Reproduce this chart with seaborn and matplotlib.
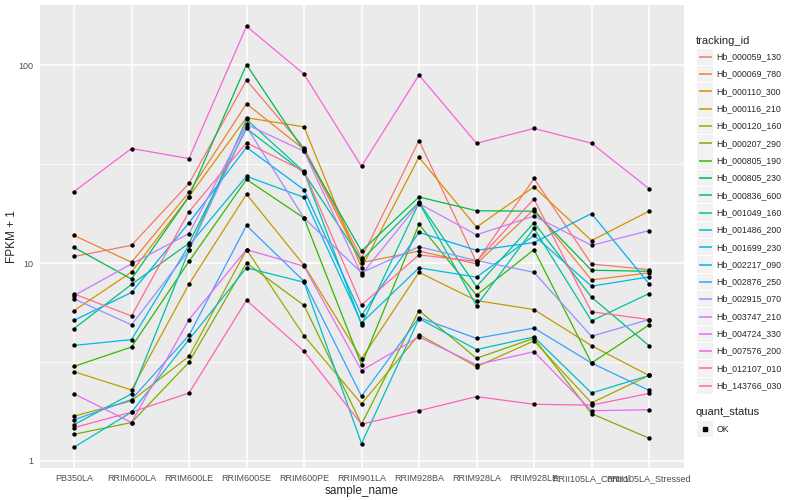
import numpy as np
import pandas as pd
import matplotlib
matplotlib.use("Agg")
import matplotlib.pyplot as plt
import seaborn as sns
from matplotlib.ticker import FixedLocator, NullFormatter
from matplotlib.patches import Rectangle

sample_names = ["PB350LA", "RRIM600LA", "RRIM600LE", "RRIM600SE", "RRIM600PE",
                "RRIM901LA", "RRIM928BA", "RRIM928LA", "RRIM928LE",
                "RRII105LA_Control", "RRII105LA_Stressed"]

tracking_ids = ["Hb_000059_130", "Hb_000069_780", "Hb_000110_300", "Hb_000116_210",
                "Hb_000120_160", "Hb_000207_290", "Hb_000805_190", "Hb_000805_230",
                "Hb_000836_600", "Hb_001049_160", "Hb_001486_200", "Hb_001699_230",
                "Hb_002217_090", "Hb_002876_250", "Hb_002915_070", "Hb_003747_210",
                "Hb_004724_330", "Hb_007576_200", "Hb_012107_010", "Hb_143766_030"]

# FPKM + 1, one list per gene (same order as sample_names)
hb_000059_130 = [10.8, 12.3, 25.3, 84.3, 38.3, 10.6, 41.7, 10.1, 26.8, 9.89, 9.27]
hb_000069_780 = [13.8, 10.1, 22.8, 64.0, 37.6, 10.06, 11.5, 9.91, 18.7, 8.22, 8.92]
hb_000110_300 = [5.75, 9.0, 21.7, 54.4, 48.9, 9.46, 34.3, 15.2, 24.3, 13.0, 18.3]
hb_000116_210 = [2.82, 2.28, 7.83, 22.3, 9.75, 3.28, 8.98, 6.46, 5.82, 3.82, 2.70]
hb_000120_160 = [1.68, 2.01, 3.37, 11.7, 4.29, 1.94, 4.35, 2.99, 4.04, 1.96, 2.70]
hb_000207_290 = [1.36, 1.56, 3.15, 10.0, 6.11, 1.53, 5.75, 3.30, 4.16, 1.73, 1.30]
hb_000805_190 = [3.0, 3.76, 10.2, 26.5, 16.9, 3.06, 15.7, 6.88, 11.7, 3.12, 4.86]
hb_000805_230 = [12.0, 8.3, 21.7, 101.0, 37.0, 11.5, 21.6, 18.4, 18.3, 9.2, 9.09]
hb_000836_600 = [4.66, 7.8, 12.6, 48.0, 28.6, 10.35, 20.3, 7.6, 16.0, 6.72, 3.82]
hb_001049_160 = [1.52, 2.18, 11.6, 53.3, 29.0, 4.88, 20.2, 6.09, 15.0, 5.1, 7.01]
hb_001486_200 = [1.17, 1.76, 4.10, 9.46, 8.0, 1.22, 5.24, 3.65, 4.23, 2.2, 2.70]
hb_001699_230 = [3.83, 4.1, 12.3, 27.5, 21.5, 4.98, 9.46, 8.49, 13.8, 7.64, 8.51]
hb_002217_090 = [5.13, 7.1, 16.0, 38.5, 23.5, 5.44, 14.3, 11.6, 12.7, 17.8, 7.87]
hb_002876_250 = [1.61, 2.04, 4.31, 15.5, 8.09, 2.12, 5.30, 4.16, 4.69, 3.12, 2.27]
hb_002915_070 = [6.59, 4.87, 11.6, 48.9, 16.9, 8.95, 12.1, 10.3, 8.98, 4.26, 5.18]
hb_003747_210 = [6.85, 9.9, 14.1, 50.3, 36.8, 8.75, 20.0, 13.9, 17.3, 12.3, 14.6]
hb_004724_330 = [2.18, 1.56, 5.18, 11.7, 9.64, 2.86, 4.23, 3.06, 3.56, 1.79, 1.81]
hb_007576_200 = [23.0, 38.0, 33.8, 158.0, 90.4, 30.9, 89.5, 40.4, 48.0, 40.4, 23.8]
hb_012107_010 = [1.47, 1.76, 2.2, 6.48, 3.58, 1.53, 1.79, 2.11, 1.93, 1.91, 2.19]
hb_143766_030 = [6.98, 5.4, 18.2, 40.6, 29.2, 6.14, 11.0, 10.2, 21.1, 5.67, 5.18]

series = [hb_000059_130, hb_000069_780, hb_000110_300, hb_000116_210, hb_000120_160,
          hb_000207_290, hb_000805_190, hb_000805_230, hb_000836_600, hb_001049_160,
          hb_001486_200, hb_001699_230, hb_002217_090, hb_002876_250, hb_002915_070,
          hb_003747_210, hb_004724_330, hb_007576_200, hb_012107_010, hb_143766_030]

# ggplot2 default hue palette for 20 levels
palette = ["#F8766D", "#EA8331", "#D89000", "#C09B00", "#A3A500", "#7CAE00", "#39B600",
           "#00BB4E", "#00BF7D", "#00C1A3", "#00BFC4", "#00BAE0", "#00B0F6", "#35A2FF",
           "#9590FF", "#C77CFF", "#E76BF3", "#FA62DB", "#FF62BC", "#FF6C91"]

df = pd.DataFrame({
    "tracking_id": np.repeat(tracking_ids, len(sample_names)),
    "sample_name": sample_names * len(tracking_ids),
    "fpkm": np.concatenate(series),
    "quant_status": "OK",
})
df["x"] = df["sample_name"].map({s: i for i, s in enumerate(sample_names)})

sns.set_style("darkgrid", {"axes.facecolor": "#EBEBEB", "grid.color": "white"})
plt.rcParams["font.family"] = ["Liberation Sans", "DejaVu Sans"]

W, H = 800, 500
fig = plt.figure(figsize=(8, 5), dpi=100)
ax = fig.add_axes([39.5 / W, 1 - 468 / H, (683.5 - 39.5) / W, (468 - 5) / H])

sns.lineplot(data=df, x="x", y="fpkm", hue="tracking_id", hue_order=tracking_ids,
             palette=palette, estimator=None, linewidth=0.9, legend=False, ax=ax)
sns.scatterplot(data=df, x="x", y="fpkm", color="black", marker="o", s=10,
                linewidth=0, legend=False, ax=ax, zorder=3)

ax.set_yscale("log")
ax.set_ylim(10 ** -0.037, 10 ** 2.306)
ax.set_xlim(-0.6, len(sample_names) - 0.4)
ax.set_yticks([1, 10, 100])
ax.set_yticklabels(["1", "10", "100"])
ax.yaxis.set_minor_locator(FixedLocator([10 ** 0.5, 10 ** 1.5]))
ax.yaxis.set_minor_formatter(NullFormatter())
ax.set_xticks(range(len(sample_names)))
ax.set_xticklabels(sample_names)
ax.grid(which="major", color="white", linewidth=1.1)
ax.grid(which="minor", color="white", linewidth=0.55)
ax.tick_params(which="minor", length=0)
ax.tick_params(which="major", length=3, width=0.6, color="#333333",
               labelcolor="#4D4D4D", labelsize=6.5, pad=1.5)
for sp in ax.spines.values():
    sp.set_visible(False)
ax.set_xlabel("sample_name", fontsize=8.5, labelpad=1.5)
ax.set_ylabel("FPKM + 1", fontsize=8.5, labelpad=0)

# legend drawn in pixel coordinates on an overlay axes
lax = fig.add_axes([0, 0, 1, 1])
lax.set_xlim(0, W)
lax.set_ylim(H, 0)
lax.axis("off")
lax.patch.set_alpha(0)

lax.text(696, 40.5, "tracking_id", fontsize=8, va="center", ha="left")
y0, step = 56.7, 17.32
for i, (tid, col) in enumerate(zip(tracking_ids, palette)):
    yc = y0 + i * step
    lax.add_patch(Rectangle((697, yc - 8.2), 16.4, 16.4, color="#F2F2F2", lw=0))
    lax.plot([698.5, 711.5], [yc, yc], color=col, lw=1.1, solid_capstyle="butt")
    lax.text(716.5, yc, tid, fontsize=6.3, va="center", ha="left")

lax.text(696, 412, "quant_status", fontsize=8, va="center", ha="left")
lax.add_patch(Rectangle((697, 429 - 8.2), 16.4, 16.4, color="#F2F2F2", lw=0))
lax.plot([705], [429], marker="s", color="black", markersize=2.6, lw=0)
lax.text(716.5, 429, "OK", fontsize=6.3, va="center", ha="left")

fig.savefig("out.png", dpi=100)
plt.close(fig)
